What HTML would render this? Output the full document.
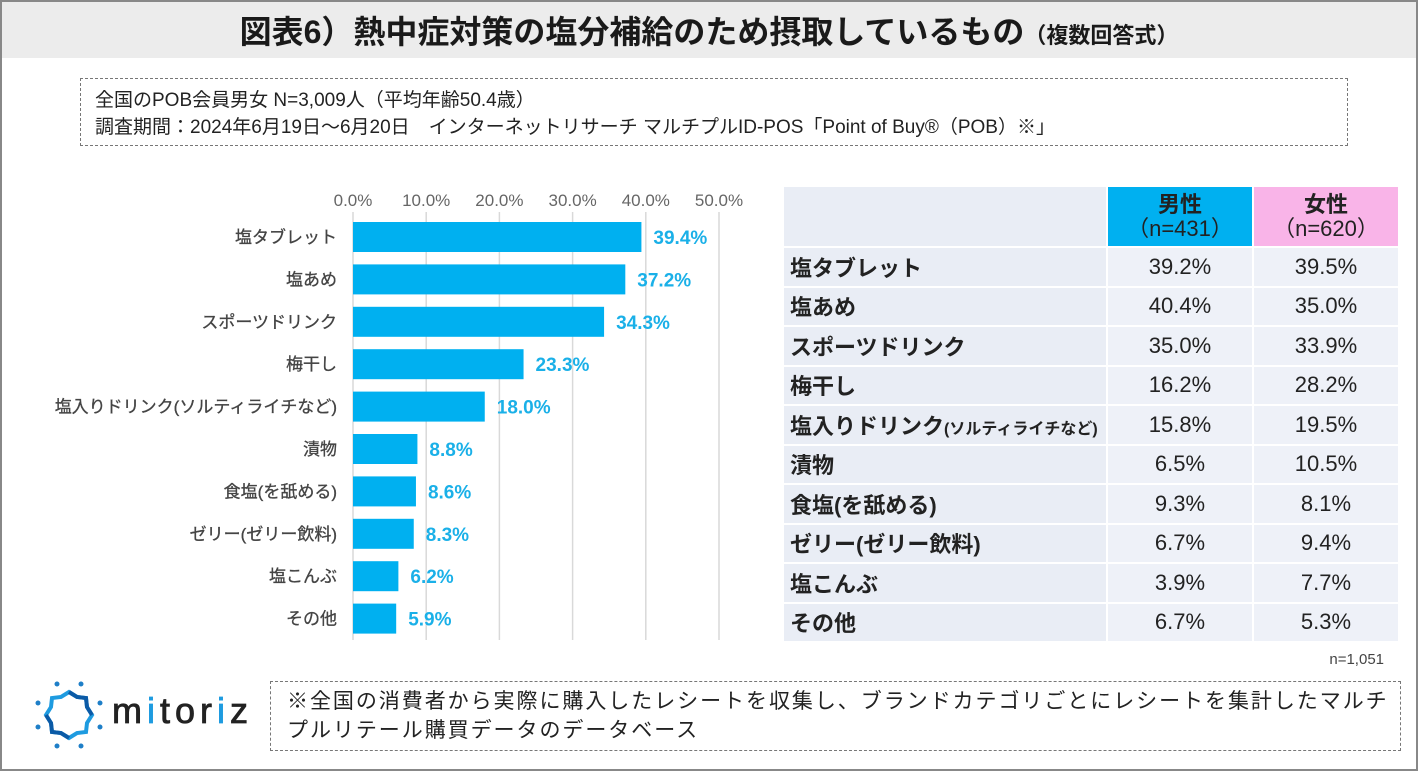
<!DOCTYPE html>
<html><head><meta charset="utf-8"><style>
body{margin:0;width:1418px;height:771px;position:relative;overflow:hidden;background:#fff;font-family:"Liberation Sans","Noto Sans CJK JP",sans-serif;color:#222}
.frame{position:absolute;left:0;top:0;width:1414px;height:767px;border:2px solid #888}
.title{position:absolute;left:2px;top:2px;width:1414px;height:56px;background:#ececec;text-align:center;font-weight:bold;font-size:32px;line-height:60px;color:#1a1a1a}
.title small{font-size:22px}
.info{position:absolute;left:80px;top:78px;width:1268px;height:68px;border:1.5px dashed #777;font-size:19px;line-height:27px;padding:8px 0 0 14px;box-sizing:border-box}
table{position:absolute;left:784px;top:187px;border-collapse:separate;border-spacing:2px;margin:-2px;font-size:22px}
td{height:37.5px;padding:0}
td.l{width:316px;background:#e9edf5;font-weight:bold;padding-left:6px}
td.v{width:144px;background:#eef1f8;text-align:center}
td.m{background:#00b0f0;text-align:center;font-weight:bold;line-height:24px;height:59px}
td.f{background:#f9b4e8;text-align:center;font-weight:bold;line-height:24px}
.note{position:absolute;left:270px;top:681px;width:1131px;height:70px;border:1.5px dashed #777;box-sizing:border-box;font-size:21px;line-height:29px;padding:5px 0 0 16px;letter-spacing:1.95px;white-space:nowrap}
</style></head><body>
<div class="frame"></div>
<div class="title">図表6）熱中症対策の塩分補給のため摂取しているもの<small>（複数回答式）</small></div>
<div class="info">全国のPOB会員男女 N=3,009人（平均年齢50.4歳）<br>調査期間：2024年6月19日～6月20日　インターネットリサーチ マルチプルID-POS「Point of Buy®（POB）※」</div>
<svg id="chart" style="position:absolute;left:0;top:0" width="780" height="660"></svg>
<table>
<tr><td class="l" style="height:59px"></td><td class="m">男性<br><span style="font-weight:normal">（n=431）</span></td><td class="f">女性<br><span style="font-weight:normal">（n=620）</span></td></tr>
<tbody id="tb"></tbody>
</table>
<div style="position:absolute;right:34px;top:651px;font-size:15px;color:#444">n=1,051</div>
<svg style="position:absolute;left:34px;top:680px" width="70" height="70" viewBox="0 0 70 70">
<polygon points="35,12 43,17 52,18 53,27 58,35 53,43 52,52 43,53 35,58 27,53 18,52 17,43 12,35 17,27 18,18 27,17" fill="none" stroke="#1e9be0" stroke-width="4"/>
<path d="M35,12 L43,17 L52,18 L53,27 L58,35" fill="none" stroke="#0b5aa6" stroke-width="4"/>
<path d="M35,58 L27,53 L18,52 L17,43 L12,35" fill="none" stroke="#0b5aa6" stroke-width="4"/>
<g fill="#1e7fc8"><circle cx="23" cy="4" r="2.5"/><circle cx="47" cy="4" r="2.5"/><circle cx="23" cy="66" r="2.5"/><circle cx="47" cy="66" r="2.5"/><circle cx="4" cy="23" r="2.5"/><circle cx="4" cy="47" r="2.5"/><circle cx="66" cy="23" r="2.5"/><circle cx="66" cy="47" r="2.5"/></g></svg>
<div style="position:absolute;left:112px;top:690px;font-size:36px;letter-spacing:5px;color:#222;-webkit-text-stroke:0.8px #222">m<span style="color:#1e9be0;-webkit-text-stroke:0.8px #1e9be0">i</span>tor<span style="color:#1e9be0;-webkit-text-stroke:0.8px #1e9be0">i</span>z</div>
<div class="note">※全国の消費者から実際に購入したレシートを収集し、ブランドカテゴリごとにレシートを集計したマルチ<br>プルリテール購買データのデータベース</div>
<script>
const categories=["塩タブレット","塩あめ","スポーツドリンク","梅干し","塩入りドリンク(ソルティライチなど)","漬物","食塩(を舐める)","ゼリー(ゼリー飲料)","塩こんぶ","その他"];
const totals=[39.4,37.2,34.3,23.3,18.0,8.8,8.6,8.3,6.2,5.9];
const male=[39.2,40.4,35.0,16.2,15.8,6.5,9.3,6.7,3.9,6.7];
const female=[39.5,35.0,33.9,28.2,19.5,10.5,8.1,9.4,7.7,5.3];
const tableLabels=["塩タブレット","塩あめ","スポーツドリンク","梅干し","塩入りドリンク<span style='font-size:16px'>(ソルティライチなど)</span>","漬物","食塩(を舐める)","ゼリー(ゼリー飲料)","塩こんぶ","その他"];
const ticks=[0,10,20,30,40,50];
const NS="http://www.w3.org/2000/svg";
const svg=document.getElementById('chart');
const x=v=>353+v*7.32, y=i=>237+i*42.4;
function mk(t,a){const e=document.createElementNS(NS,t);for(const k in a)e.setAttribute(k,a[k]);svg.appendChild(e);return e;}
ticks.forEach(t=>{const g=mk('line',{x1:x(t),x2:x(t),y1:212,y2:640,stroke:'#d9d9d9','stroke-width':1.5});


const l=mk('text',{x:x(t),y:206,'text-anchor':'middle','font-size':17,fill:'#666'});l.textContent=t.toFixed(1)+'%';

});
categories.forEach((c,i)=>{
const r=mk('rect',{x:x(0),y:y(i)-15,width:x(totals[i])-x(0),height:30,fill:'#00b0f0'});


const l=mk('text',{x:337,y:y(i)+6,'text-anchor':'end','font-size':17,fill:'#444','stroke':'#444','stroke-width':0.3});l.textContent=c;


const v=mk('text',{x:x(totals[i])+12,y:y(i)+7,'font-size':19,'font-weight':'bold',fill:'#1ab0e8'});v.textContent=totals[i].toFixed(1)+'%';


});
const tb=document.getElementById('tb');
tableLabels.forEach((c,i)=>{const tr=document.createElement('tr');


tr.innerHTML=`<td class="l">${c}</td><td class="v">${male[i].toFixed(1)}%</td><td class="v">${female[i].toFixed(1)}%</td>`;tb.appendChild(tr);});
</script>
</body></html>
